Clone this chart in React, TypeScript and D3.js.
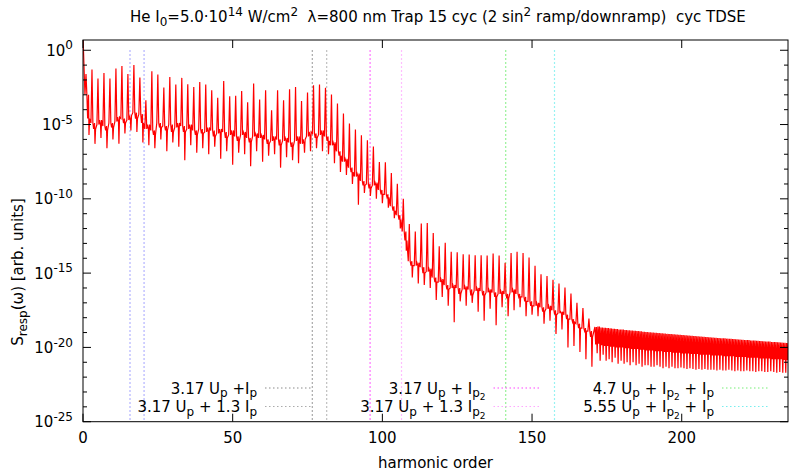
import React from 'react';
import * as d3 from 'd3';

// harmonic spectrum (log10 values)
// odd harmonics 1..169: peak height, background beside the peak, dip between peaks
const dcLog = 1.0;
const peakLog = [
  -1.6, -1.3, -1.9, -1.53, -1.9, -1.23, -1.06, -1.6, -1.0, -1.84,
  -3.36, -1.41, -1.64, -2.5, -1.8, -2.3, -1.86, -2.29, -2.47, -2.13,
  -2.3, -2.7, -3.2, -2.07, -3.1, -3.07, -2.75, -3.5, -2.24, -3.32,
  -2.69, -4.04, -2.69, -3.36, -2.62, -2.47, -3.41, -2.85, -2.36, -2.31,
  -2.53, -2.98, -3.59, -4.26, -4.93, -5.33, -5.72, -6.06, -6.48, -7.52,
  -7.54, -8.26, -8.98, -9.99, -11.7, -12.2, -11.66, -11.62, -12.3, -13.2,
  -12.95, -13.57, -13.6, -13.73, -13.75, -13.8, -13.8, -13.82, -13.68, -13.82,
  -14.3, -13.64, -13.57, -13.64, -13.95, -14.5, -15.08, -15.2, -15.45, -15.7,
  -15.97, -16.37, -17.0, -17.35, -18.06,
];
const baseLog = [
  -3.0, -4.9, -5.0, -5.1, -4.9, -4.8, -4.6, -4.7, -4.2, -4.3,
  -5.3, -5.4, -4.9, -5.1, -5.0, -5.2, -5.1, -5.3, -5.4, -5.3,
  -5.5, -5.4, -5.6, -5.5, -5.7, -5.8, -5.7, -5.9, -5.8, -5.9,
  -6.0, -6.1, -6.0, -6.1, -6.2, -6.1, -6.3, -5.8, -5.6, -5.7,
  -5.8, -6.4, -6.8, -7.5, -7.9, -8.5, -8.8, -9.0, -9.1, -9.4,
  -9.7, -10.5, -11.1, -12.2, -14.2, -14.5, -14.6, -14.9, -15.3, -15.6,
  -15.8, -16.0, -16.0, -16.1, -16.1, -16.2, -16.2, -16.3, -16.3, -16.4,
  -16.4, -16.3, -16.4, -16.6, -16.9, -17.2, -17.3, -17.4, -17.5, -17.7,
  -17.8, -18.1, -18.4, -18.7, -18.9,
];
// second background value, between the peak and the dip
const wobbleLog = [
  -4.6, -5.3, -4.7, -5.4, -5.2, -4.5, -4.9, -4.4, -4.6, -4.9,
  -5.0, -5.7, -5.2, -5.4, -5.5, -4.9, -5.5, -5.0, -5.7, -5.6,
  -5.2, -5.8, -5.3, -5.9, -5.4, -6.1, -5.5, -6.2, -5.6, -5.7,
  -6.3, -5.8, -6.4, -5.9, -6.5, -5.8, -6.0, -5.5, -5.9, -5.4,
  -6.1, -6.2, -7.1, -7.3, -8.2, -8.3, -9.1, -9.3, -8.9, -9.7,
  -9.9, -10.8, -11.4, -12.8, -14.5, -14.3, -15.0, -14.7, -15.6, -15.4,
  -16.1, -15.8, -16.4, -15.9, -16.5, -16.0, -16.5, -16.1, -16.6, -16.2,
  -16.7, -16.1, -16.6, -16.9, -17.2, -17.0, -17.6, -17.2, -17.8, -17.6,
  -18.1, -18.3, -18.7, -18.9, -19.3,
];
const dipLog = [
  -5.7, -6.3, -5.9, -6.6, -6.0, -6.3, -5.6, -5.4, -5.5, -6.2,
  -6.4, -6.6, -6.0, -6.8, -6.2, -6.5, -7.4, -6.4, -6.9, -6.6,
  -7.0, -6.5, -7.3, -6.8, -7.7, -6.9, -7.0, -7.8, -6.8, -7.5,
  -7.1, -7.0, -7.9, -7.2, -7.4, -7.6, -6.9, -6.8, -6.6, -6.8,
  -7.0, -7.6, -8.2, -8.4, -9.0, -10.4, -9.6, -9.8, -10.0, -10.3,
  -10.6, -11.3, -12.0, -13.5, -15.3, -15.7, -15.8, -16.0, -16.8, -16.6,
  -17.2, -18.3, -16.9, -17.2, -17.0, -17.6, -18.2, -17.4, -18.5, -17.3,
  -17.9, -17.5, -17.3, -17.9, -17.8, -17.9, -18.4, -18.2, -19.1, -18.8,
  -20.0, -19.9, -20.3, -20.8, -21.3,
];
// harmonics 171..235: fast comb, top envelope / lower edge of the band / deep teeth
const combTop = [
  -18.62, -18.60, -18.66, -18.68, -18.70, -18.72, -18.74, -18.76, -18.79,
  -18.80, -18.83, -18.84, -18.87, -18.88, -18.90, -18.92, -18.94, -18.96, -18.98,
  -19.00, -19.02, -19.03, -19.05, -19.07, -19.09, -19.10, -19.12, -19.14, -19.15,
  -19.17, -19.19, -19.20, -19.22, -19.24, -19.25, -19.27, -19.28, -19.30, -19.32,
  -19.33, -19.35, -19.36, -19.38, -19.39, -19.41, -19.42, -19.44, -19.45, -19.47,
  -19.48, -19.50, -19.51, -19.53, -19.54, -19.56, -19.57, -19.58, -19.60, -19.61,
  -19.63, -19.64, -19.66, -19.67, -19.69, -19.70,
];
const combMid = [
  -19.8, -19.75, -19.85, -19.9, -19.9, -19.95, -19.95, -20.0, -20.0,
  -20.0, -20.05, -20.05, -20.1, -20.1, -20.1, -20.15, -20.15, -20.2, -20.2,
  -20.2, -20.25, -20.25, -20.25, -20.3, -20.3, -20.3, -20.35, -20.35, -20.35,
  -20.4, -20.4, -20.4, -20.45, -20.45, -20.45, -20.5, -20.5, -20.5, -20.5,
  -20.55, -20.55, -20.55, -20.55, -20.6, -20.6, -20.6, -20.6, -20.65, -20.65,
  -20.65, -20.65, -20.7, -20.7, -20.7, -20.7, -20.75, -20.75, -20.75, -20.75,
  -20.8, -20.8, -20.8, -20.8, -20.85, -20.85,
];
const combDip = [
  -20.4, -20.9, -20.5, -20.9, -20.8, -21.0, -20.7, -21.1, -20.9,
  -21.1, -21.0, -21.2, -21.0, -21.2, -21.1, -21.3, -21.2, -21.2, -21.3,
  -21.3, -21.2, -21.3, -21.4, -21.3, -21.4, -21.3, -21.4, -21.4, -21.35,
  -21.4, -21.45, -21.4, -21.45, -21.5, -21.45, -21.5, -21.45, -21.5, -21.5,
  -21.5, -21.55, -21.5, -21.55, -21.55, -21.5, -21.55, -21.6, -21.55, -21.6,
  -21.6, -21.55, -21.6, -21.6, -21.65, -21.6, -21.6, -21.65, -21.65, -21.6,
  -21.65, -21.7, -21.65, -21.7, -21.7, -21.7,
];

// cutoff markers (harmonic order)
const markerPos = [15.7, 20.4, 76.6, 81.4, 95.9, 106.4, 141.2, 157.5];
const markerColor = ['#9999ff', '#9999ff', '#8c8c8c', '#ababab', '#ff44ff', '#ffa8ff', '#77ee77', '#77eeee'];
// legend: [text segments, index of marker whose style it shows]
type Seg = [string, number?];
const legendItems: [Seg[], number][] = [
  [[['3.17 U'], ['p', -1], [' +I'], ['p', -1]], 2],
  [[['3.17 U'], ['p', -1], [' + 1.3 I'], ['p', -1]], 3],
  [[['3.17 U'], ['p', -1], [' + I'], ['p', -1], ['2', -2]], 4],
  [[['3.17 U'], ['p', -1], [' + 1.3 I'], ['p', -1], ['2', -2]], 5],
  [[['4.7 U'], ['p', -1], [' + I'], ['p', -1], ['2', -2], [' + I', 0], ['p', -1]], 6],
  [[['5.55 U'], ['p', -1], [' + I'], ['p', -1], ['2', -2], [' + I', 0], ['p', -1]], 7],
];
const xTicks = [0, 50, 100, 150, 200];
const yMajorExp = [0, -5, -10, -15, -20, -25];

const FONT = 'DejaVu Sans';
const FS = 15;

function rich(segs: Seg[], size: number) {
  let cur = 0;
  return segs.map(([t, lvl = 0], i) => {
    const off = lvl === 1 ? -0.42 * size : lvl === -1 ? 0.25 * size : lvl === -2 ? 0.45 * size : 0;
    const dy = off - cur;
    cur = off;
    const fs = lvl === 0 ? size : lvl === -2 ? size * 0.6 : size * 0.8;
    return (
      <tspan key={i} dy={dy} fontSize={fs}>
        {t}
      </tspan>
    );
  });
}

export default function App() {
  const W = 789;
  const H = 472;
  const x0 = 83, x1 = 788, y0 = 40, y1 = 421.7;

  const x = d3.scaleLinear().domain([0, 235.5]).range([x0, x1]);
  const y = d3.scaleLog().domain([1e-25, Math.pow(10, 0.69)]).range([y1, y0]);

  const pts: [number, number][] = [[0, dcLog]];
  peakLog.forEach((p, i) => {
    const h = 2 * i + 1;
    pts.push(
      [h - 0.35, baseLog[i]],
      [h, p],
      [h + 0.3, baseLog[i]],
      [h + 0.55, wobbleLog[i]],
      [h + 0.85, baseLog[i]],
      [h + 1, dipLog[i]],
      [h + 1.2, wobbleLog[i]]
    );
  });
  combTop.forEach((t, i) => {
    const k = 171 + i;
    pts.push([k, t], [k + 0.25, combMid[i]], [k + 0.5, t], [k + 0.75, combDip[i]]);
  });
  const line = d3
    .line<[number, number]>()
    .x((d) => x(d[0]))
    .y((d) => y(Math.pow(10, d[1])));

  const minorExp = d3.range(-25, 1);

  return (
    <svg width={W} height={H} style={{ display: 'block', position: 'absolute', left: 0, top: 0 }} fontFamily={FONT}>
      <rect width={W} height={H} fill="#fff" />
      <defs>
        <clipPath id="plot">
          <rect x={x0} y={y0} width={x1 - x0} height={y1 - y0} />
        </clipPath>
      </defs>

      {/* title */}
      <text x={130} y={22} fontSize={FS} style={{ whiteSpace: 'pre' }}>
        {rich(
          [
            ['He I'],
            ['0', -1],
            ['=5.0·10', 0],
            ['14', 1],
            [' W/cm', 0],
            ['2', 1],
            ['  λ=800 nm Trap 15 cyc (2 sin', 0],
            ['2', 1],
            [' ramp/downramp)  cyc TDSE', 0],
          ],
          FS
        )}
      </text>

      {/* cutoff markers */}
      {markerPos.map((m, i) => (
        <line
          key={i}
          x1={x(m)}
          x2={x(m)}
          y1={y(1)}
          y2={y1}
          stroke={markerColor[i]}
          strokeWidth={1.2}
          strokeDasharray="1.5,2.5"
        />
      ))}

      {/* spectrum */}
      <path d={line(pts) ?? ''} fill="none" stroke="#ff0000" strokeWidth={1.2} clipPath="url(#plot)" />

      {/* legend */}
      {legendItems.map(([segs, mi], i) => {
        const col = Math.floor(i / 2);
        const row = i % 2;
        const R = 257 + col * 228.5;
        const cy = 388 + row * 18.5;
        return (
          <g key={i}>
            <text x={R} y={cy + 5.5} textAnchor="end" fontSize={FS} style={{ whiteSpace: 'pre' }}>
              {rich(segs, FS)}
            </text>
            <line x1={R + 8} x2={R + 55} y1={cy} y2={cy} stroke={markerColor[mi]} strokeWidth={1.2} strokeDasharray="1.5,2.5" />
          </g>
        );
      })}

      {/* frame */}
      <rect x={x0} y={y0} width={x1 - x0} height={y1 - y0} fill="none" stroke="#000" strokeWidth={1} />

      {/* x ticks */}
      {xTicks.map((t) => (
        <g key={t}>
          <line x1={x(t)} x2={x(t)} y1={y1} y2={y1 - 8} stroke="#000" />
          <line x1={x(t)} x2={x(t)} y1={y0} y2={y0 + 8} stroke="#000" />
          <text x={x(t)} y={443} textAnchor="middle" fontSize={FS}>
            {t}
          </text>
        </g>
      ))}

      {/* y ticks */}
      {minorExp.map((e) => {
        const major = yMajorExp.includes(e);
        const len = major ? 8 : 4;
        const yy = y(Math.pow(10, e));
        return (
          <g key={e}>
            <line x1={x0} x2={x0 + len} y1={yy} y2={yy} stroke="#000" />
            <line x1={x1} x2={x1 - len} y1={yy} y2={yy} stroke="#000" />
          </g>
        );
      })}
      {yMajorExp.map((e) => (
        <text key={e} x={73} y={y(Math.pow(10, e)) + 5.5} textAnchor="end" fontSize={FS}>
          {rich([['10'], [String(e), 1]], FS)}
        </text>
      ))}

      {/* axis labels */}
      <text x={435.5} y={468} textAnchor="middle" fontSize={FS}>
        harmonic order
      </text>
      <text transform="translate(23,272) rotate(-90)" textAnchor="middle" fontSize={FS}>
        {rich([['S'], ['resp', -1], ['(ω) [arb. units]', 0]], FS)}
      </text>
    </svg>
  );
}
